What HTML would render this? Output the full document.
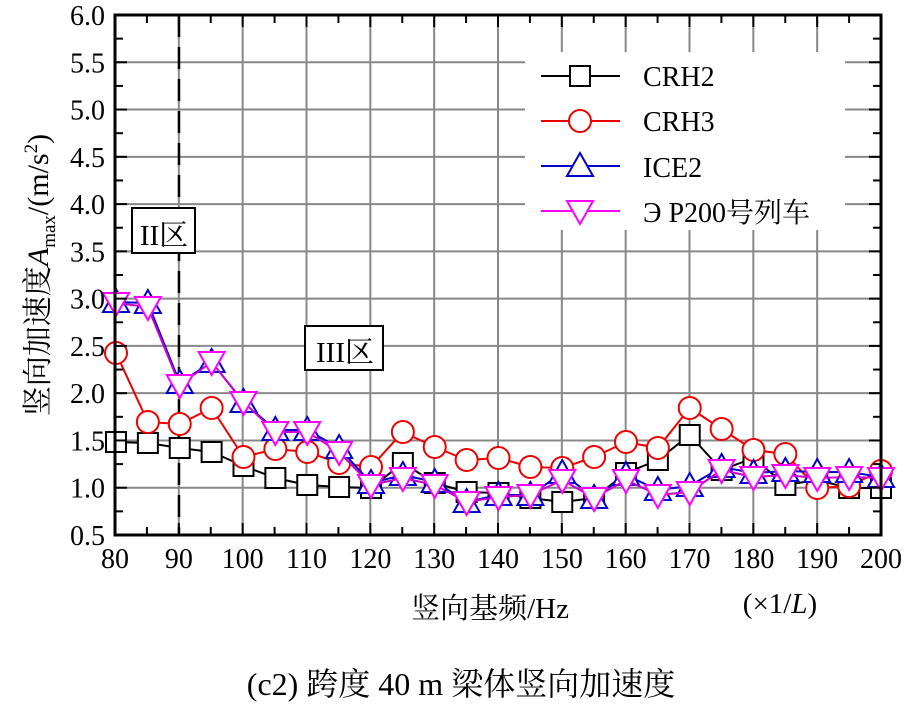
<!DOCTYPE html>
<html><head><meta charset="utf-8"><style>
html,body{margin:0;padding:0;background:#fff;}
svg{display:block;font-family:"Liberation Serif","Noto Serif CJK SC",serif;}
</style></head><body>
<svg id="s" width="922" height="716" viewBox="0 0 922 716" xmlns="http://www.w3.org/2000/svg">
<g id="grid" stroke="#888" stroke-width="2"></g>
<line x1="179" y1="15" x2="179" y2="535" stroke="#000" stroke-width="2.5" stroke-dasharray="22,10"/>
<rect x="132" y="208" width="63" height="45" fill="#fff" stroke="#000" stroke-width="2"/>
<text x="164" y="245" font-size="29" text-anchor="middle">II区</text>
<rect x="305" y="326" width="78" height="44" fill="#fff" stroke="#000" stroke-width="2"/>
<text x="345" y="362" font-size="29" text-anchor="middle">III区</text>
<g id="ser"></g>
<rect x="525" y="52" width="320" height="178" fill="#fff"/>
<g id="leg"></g>
<text x="643" y="86" font-size="28">CRH2</text>
<text x="643" y="131" font-size="28">CRH3</text>
<text x="643" y="177" font-size="28">ICE2</text>
<text x="643" y="222" font-size="28">Э P200号列车</text>
<g id="ticks" stroke="#000" stroke-width="2"></g>
<rect x="115" y="15" width="766" height="520" fill="none" stroke="#000" stroke-width="3"/>
<g id="lab" font-size="28"></g>
<text x="490" y="618" font-size="29" text-anchor="middle">竖向基频/Hz</text>
<text x="780" y="613" font-size="29" text-anchor="middle">(×1/<tspan font-style="italic">L</tspan>)</text>
<text transform="translate(48,275) rotate(-90)" font-size="30" text-anchor="middle">竖向加速度<tspan font-style="italic">A</tspan><tspan font-size="19" dy="7">max</tspan><tspan dy="-7">/(m/s</tspan><tspan font-size="19" dy="-11">2</tspan><tspan dy="11">)</tspan></text>
<text x="461" y="695" font-size="32" text-anchor="middle">(c2)  跨度 40 m 梁体竖向加速度</text>
</svg>
<script>
const NS="http://www.w3.org/2000/svg";
function el(p,t,a){const e=document.createElementNS(NS,t);for(const k in a)e.setAttribute(k,a[k]);p.appendChild(e);return e;}
const X=v=>115+(v-80)*766/120, Y=v=>535-(v-0.5)*520/5.5;
const g=document.getElementById('grid'),tk=document.getElementById('ticks'),lb=document.getElementById('lab');
for(let v=90;v<200;v+=10)el(g,'line',{x1:X(v),y1:15,x2:X(v),y2:535});
for(let v=1;v<6;v+=0.5)el(g,'line',{x1:115,y1:Y(v),x2:881,y2:Y(v)});
for(let v=80;v<=200;v+=5){const L=v%10==0?12:8;el(tk,'line',{x1:X(v),y1:535,x2:X(v),y2:535-L});el(tk,'line',{x1:X(v),y1:15,x2:X(v),y2:15+L});}
for(let v=0.5;v<=6.001;v+=0.25){const L=(Math.round(v*4)%2==0)?12:8;el(tk,'line',{x1:115,y1:Y(v),x2:115+L,y2:Y(v)});el(tk,'line',{x1:881,y1:Y(v),x2:881-L,y2:Y(v)});}
for(let v=80;v<=200;v+=10){const t=el(lb,'text',{x:X(v),y:568,'text-anchor':'middle'});t.textContent=v;}
for(let v=0.5;v<=6.001;v+=0.5){const t=el(lb,'text',{x:105,y:Y(v)+10,'text-anchor':'end'});t.textContent=v.toFixed(1);}
const px=[];for(let i=0;i<25;i++)px.push(116+i*765/24);
const D={
sq:[442,443,448,452,466,478,485,487,488,463,483,492,493,498,502,498,473,460,435,470,458,485,480,488,488],
ci:[353,422,424,408,457,449,452,463,467,432,447,460,458,467,468,457,442,448,408,429,450,454,488,486,471],
tu:[302,303,383,362,402,430,430,448,483,475,482,502,495,495,473,498,475,490,486,467,473,471,472,472,477],
td:[303,307,385,362,402,432,432,452,485,478,485,502,497,495,480,498,480,495,492,470,477,475,478,477,478]};
const s=document.getElementById('ser');
function mk(p,type,x,y){
 if(type=='sq')el(p,'rect',{x:x-10,y:y-10,width:20,height:20,fill:'#fff',stroke:'#000','stroke-width':2});
 if(type=='ci')el(p,'circle',{cx:x,cy:y,r:11,fill:'#fff',stroke:'#e00','stroke-width':2});
 if(type=='tu')el(p,'polygon',{points:`${x},${y-13} ${x-13},${y+10} ${x+13},${y+10}`,fill:'#fff',stroke:'#00c','stroke-width':2});
 if(type=='td')el(p,'polygon',{points:`${x},${y+13} ${x-13},${y-10} ${x+13},${y-10}`,fill:'#fff',stroke:'#f0f','stroke-width':2});
}
const col={sq:'#000',ci:'#e00',tu:'#00c',td:'#c0c'};
for(const k of ['sq','ci','tu','td']){
 el(s,'polyline',{points:D[k].map((y,i)=>px[i]+','+y).join(' '),fill:'none',stroke:col[k],'stroke-width':2});
 D[k].forEach((y,i)=>mk(s,k,px[i],y));
}
const lg=document.getElementById('leg');
const ly={sq:76,ci:121,tu:166,td:211},lc={sq:'#000',ci:'#e00',tu:'#00c',td:'#f0f'};
for(const k in ly){el(lg,'line',{x1:541,y1:ly[k],x2:620,y2:ly[k],stroke:lc[k],'stroke-width':2});mk(lg,k,580,ly[k]);}
</script>
</body></html>
